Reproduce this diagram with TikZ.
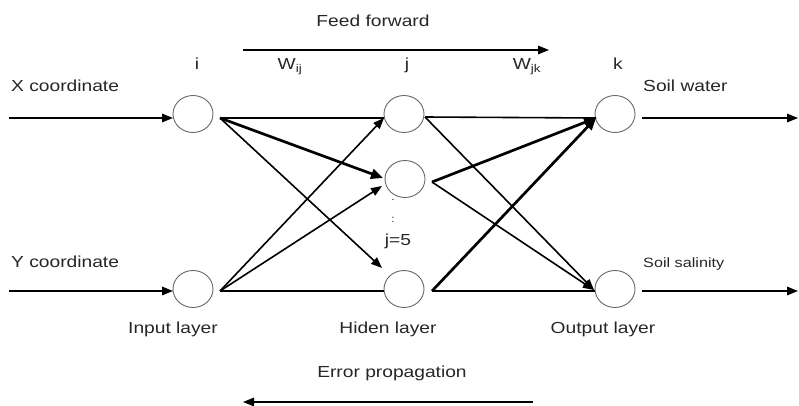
\documentclass[tikz,border=0pt]{standalone}
\usepackage{fontspec}
\setmainfont{Liberation Sans}[FakeStretch=1.2]
\usetikzlibrary{arrows.meta,shapes.geometric}
\begin{document}
\begin{tikzpicture}[x=1pt,y=-1pt,
  font=\fontsize{16}{19}\selectfont,
  neuron/.style={ellipse,draw=black!60,line width=0.9pt,minimum width=40pt,minimum height=37pt,inner sep=0pt},
  link/.style={line width=1.6pt,draw=black},
  arr/.style={link,-{Triangle[length=11pt,width=8.5pt]}},
  heavy/.style={line width=2.7pt,draw=black,-{Triangle[length=12pt,width=10pt]}},
  lbl/.style={inner sep=0pt,anchor=base,text=black!85},
  lblw/.style={inner sep=0pt,anchor=base west,text=black!85},
]
\useasboundingbox (0,0) rectangle (799,406);

% neurons
\node[neuron] (i1) at (193,114) {};
\node[neuron] (i2) at (193,289) {};
\node[neuron] (j1) at (404,114) {};
\node[neuron] (j2) at (405,179) {};
\node[neuron] (j3) at (404,289) {};
\node[neuron] (k1) at (615,114) {};
\node[neuron] (k2) at (615,289) {};

% connection ports
\coordinate (xin) at (9,118);
\coordinate (yin) at (9,291);
\coordinate (i1in) at (173,118);
\coordinate (i2in) at (173,291);
\coordinate (i1o) at (220,118);
\coordinate (i2o) at (220,291);
\coordinate (j1a) at (384,118);
\coordinate (j2a) at (383,178);
\coordinate (j2b) at (382,186);
\coordinate (j3a) at (382,268);
\coordinate (j3b) at (384,291);
\coordinate (j1o) at (425,117);
\coordinate (j2o) at (432,182);
\coordinate (j3o) at (432,291);
\coordinate (k1a) at (596,118);
\coordinate (k2a) at (594,290);
\coordinate (k2b) at (595,291);
\coordinate (k1o) at (642,118);
\coordinate (k2o) at (642,291);
\coordinate (outw) at (798,118);
\coordinate (outs) at (798,291);

% inputs
\draw[arr] (xin) -- (i1in);
\draw[arr] (yin) -- (i2in);

% input -> hidden
\draw[link] (i1o) -- (j1a);
\draw[heavy] (i1o) -- (j2a);
\draw[arr] (i1o) -- (j3a);
\draw[arr] (i2o) -- (j1a);
\draw[arr] (i2o) -- (j2b);
\draw[link] (i2o) -- (j3b);

% hidden -> output
\draw[link] (j1o) -- (k1a);
\draw[arr] (j1o) -- (k2a);
\draw[heavy] (j2o) -- (k1a);
\draw[arr] (j2o) -- (k2a);
\draw[heavy] (j3o) -- (k1a);
\draw[link] (j3o) -- (k2b);

% outputs
\draw[arr] (k1o) -- (outw);
\draw[arr] (k2o) -- (outs);

% direction arrows
\coordinate (ffa) at (243,50);
\coordinate (ffb) at (549,50);
\coordinate (epa) at (533,402);
\coordinate (epb) at (243,402);
\draw[arr] (ffa) -- (ffb);
\draw[arr] (epa) -- (epb);

% labels
\node[lbl] (tff) at (373,27) {Feed forward};
\node[lbl] (tep) at (392,377) {Error propagation};
\node[lbl] (twij) at (290,70) {W\textsubscript{ij}};
\node[lbl] (tj) at (407,70) {j};
\node[lbl] (twjk) at (527,70) {W\textsubscript{jk}};
\node[lbl] (ti) at (197,70) {i};
\node[lbl] (tk) at (618,70) {k};
\node[lblw] (tx) at (11,92) {X coordinate};
\node[lblw] (ty) at (11,267) {Y coordinate};
\node[lblw] (tsw) at (643,92) {Soil water};
\node[lblw,font=\fontsize{13.5}{16}\selectfont] (tss) at (643,267) {Soil salinity};
\node[lbl] (til) at (173,333) {Input layer};
\node[lbl] (thl) at (388,333) {Hiden layer};
\node[lbl] (tol) at (603,333) {Output layer};
\node[lbl,font=\fontsize{10}{12}\selectfont] (td1) at (393,200) {.};
\node[lbl,font=\fontsize{10}{12}\selectfont] (td2) at (393,222) {:};
\node[lbl] (tj5) at (398,245) {j=5};
\end{tikzpicture}
\end{document}
